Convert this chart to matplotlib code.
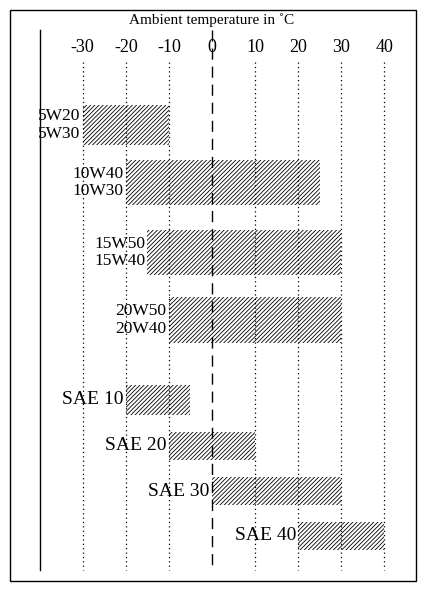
import matplotlib
matplotlib.use("Agg")
import matplotlib.pyplot as plt
from matplotlib.patches import Rectangle

plt.rcParams['font.family'] = ['Liberation Serif', 'DejaVu Serif']
plt.rcParams['hatch.linewidth'] = 0.6

groups = [["5W20", "5W30"], ["10W40", "10W30"], ["15W50", "15W40"], ["20W50", "20W40"],
          ["SAE 10"], ["SAE 20"], ["SAE 30"], ["SAE 40"]]
starts = [-30, -20, -15, -10, -20, -10, 0, 20]
ends = [-10, 25, 30, 30, -5, 10, 30, 40]
ticks = [-30, -20, -10, 0, 10, 20, 30, 40]

# layout (pixel rows)
tops = [105, 160, 230, 297, 385, 432, 477, 522]
bots = [145, 205, 275, 343, 415, 460, 505, 550]

W, H = 427, 591
fig = plt.figure(figsize=(W/100, H/100), dpi=100)
ax = fig.add_axes([0, 0, 1, 1])
x0 = -212/4.31
ax.set_xlim(x0, x0 + W/4.31)
ax.set_ylim(H, 0)
ax.axis('off')

fig.patches.append(Rectangle((10/W, 10/H), 406/W, 571/H, transform=fig.transFigure,
                             fill=False, lw=1, ec='black'))
ax.text(0, 20, "Ambient temperature in ˚C", ha='center', va='center', fontsize=11)
for t in ticks:
    ax.text(t, 48, f"{t}", ha='center', va='center', fontsize=13)
    if t == 0:
        ax.plot([t, t], [30, 570], color='black', lw=1, ls=(0, (8, 5)))
    else:
        ax.plot([t, t], [62, 570], color='black', lw=0.9, ls=(0, (1, 2.5)))
ax.plot([-40, -40], [30, 570], color='black', lw=1)

for g, s, e, t, b in zip(groups, starts, ends, tops, bots):
    ax.add_patch(Rectangle((s, t), e - s, b - t, fill=False, hatch='////////', lw=0, ec='black'))
    fs = 14 if len(g) == 1 else 12.5
    ax.text(s - 0.5, (t + b) / 2, "\n".join(g), ha='right', va='center', fontsize=fs,
            linespacing=1.1)

fig.savefig("out.png", dpi=100)
